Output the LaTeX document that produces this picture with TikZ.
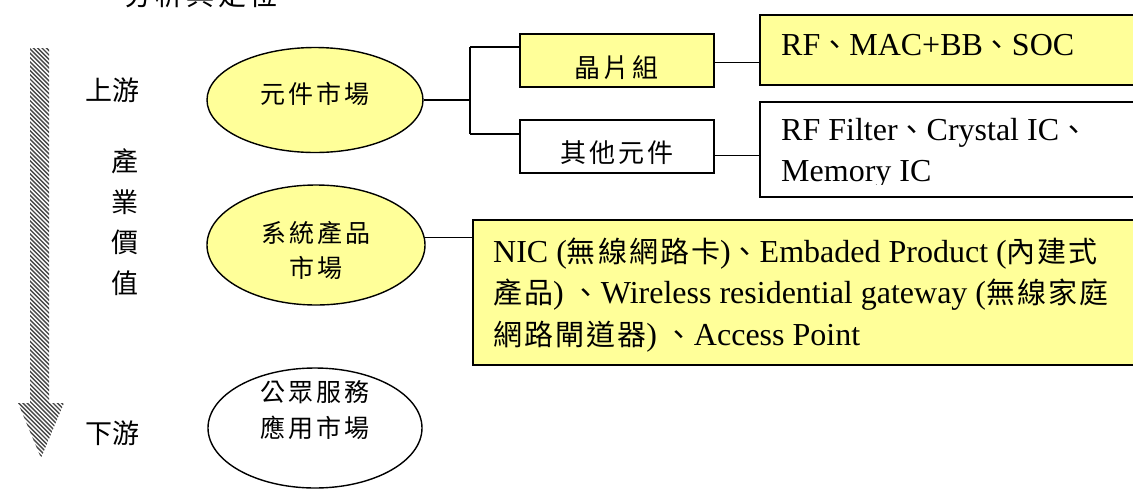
\documentclass[tikz,border=0pt]{standalone}
\usepackage{fontspec}
\setmainfont{Liberation Serif}
\newfontfamily\cjk{Noto Sans CJK TC}
\newfontfamily\cjkw[LetterSpace=7]{Noto Sans CJK TC}
\newfontfamily\kai[LetterSpace=12]{Noto Sans CJK TC}
\usetikzlibrary{shapes.geometric}
\definecolor{pale}{HTML}{FFFF99}
\newcommand\zh[1]{{\cjkw\fontsize{29}{41}\selectfont #1}}

\tikzset{
  box/.style={draw, line width=1.5pt, inner sep=0pt, anchor=north west},
  ybox/.style={box, fill=pale},
  oval/.style={ellipse, draw, line width=1.4pt, inner sep=0pt},
  wire/.style={line width=1.5pt},
  hatch/.style={line width=1.4pt, black!72},
  kailbl/.style={font=\kai\fontsize{25}{35.5}\selectfont, inner sep=0pt, align=center},
  side/.style={font=\cjk\fontsize{27}{40.7}\selectfont, inner sep=0pt, align=center},
  latin/.style={font=\fontsize{32}{41}\selectfont, inner sep=0pt, anchor=base west},
}

\begin{document}
\begin{tikzpicture}[x=1pt, y=-1pt]
\fill[white] (0,0) rectangle (1133,491);
\useasboundingbox (0,0) rectangle (1133,491);

% heading line, running off the top edge
\node[side, font=\kai\fontsize{28}{28}\selectfont] (head) at (201,-5) {分析與定位};

% striped downward arrow
\begin{scope}
  \clip (30,48) -- (49,48) -- (49,403) -- (64,403) -- (41,458) -- (18,403) -- (30,403) -- cycle;
  \foreach \i in {-80,-75.7,...,520} \draw[hatch] (0,\i) -- (80,\i+80);
\end{scope}

% side labels
\node[side] (up) at (112,90) {上游};
\node[side] (value) at (125,222) {產\\業\\價\\值};
\node[side] (down) at (112,433) {下游};

% market ellipses
\node[oval, fill=pale, minimum width=216pt, minimum height=105pt] (e1) at (315,100) {};
\node[kailbl] (e1t) at ([yshift=6.5pt]e1.center) {元件市場};
\node[oval, fill=pale, minimum width=218pt, minimum height=120pt] (e2) at (316,245) {};
\node[kailbl] (e2t) at ([yshift=-5.5pt]e2.center) {系統產品\\市場};
\node[oval, fill=white, minimum width=214pt, minimum height=120pt] (e3) at (315,428) {};
\node[kailbl] (e3t) at ([yshift=18pt]e3.center) {公眾服務\\應用市場};

% component branch
\node[ybox, minimum width=194pt, minimum height=53pt] (chip) at (519,33) {};
\node[kailbl, font=\kai\fontsize{26}{30}\selectfont] (chipt) at ([yshift=-7pt]chip.center) {晶片組};
\node[box, fill=white, minimum width=194pt, minimum height=53pt] (other) at (519,119) {};
\node[kailbl, font=\kai\fontsize{26}{30}\selectfont] (othert) at ([yshift=-6pt]other.center) {其他元件};

\node[ybox, minimum width=400pt, minimum height=70pt] (rf) at (759,14) {};
\node[latin] (rft) at (781,55) {RF\zh{、}MAC+BB\zh{、}SOC};

\node[box, fill=white, minimum width=400pt, minimum height=95pt] (rff) at (759,101) {};
\begin{scope}
  \clip (759,101) rectangle (1140,184);
  \node[latin] (rfft1) at (781,140) {RF Filter\zh{、}Crystal IC\zh{、}};
  \node[latin] (rfft2) at (781,181) {Memory IC};
\end{scope}

% system product box
\node[ybox, minimum width=700pt, minimum height=145pt] (nic) at (472,219) {};
\node[latin] (nic1) at (493,262) {NIC (\zh{無線網路卡})\zh{、}Embaded Product (\zh{內建式}};
\node[latin] (nic2) at (493,303) {\zh{產品}) \zh{、}Wireless residential gateway (\zh{無線家庭}};
\node[latin] (nic3) at (493,345) {\zh{網路閘道器}) \zh{、}Access Point};

% connectors
\coordinate (jm) at (470,100);
\coordinate (jt) at (470,47);
\coordinate (jb) at (470,134);
\draw[wire] (e1.east) -- (jm);
\draw[wire] (jt) -- (jb);
\draw[wire] (jt) -- (jt -| chip.west);
\draw[wire] (jb) -- (jb -| other.west);
\draw[wire] ([yshift=-2pt]chip.east) -- ([yshift=-2pt]chip.east -| rf.west);
\draw[wire] ([yshift=-9pt]other.east) -- ([yshift=-9pt]other.east -| rff.west);
\draw[wire] (e2.4) -- (e2.4 -| nic.west);
\end{tikzpicture}
\end{document}
